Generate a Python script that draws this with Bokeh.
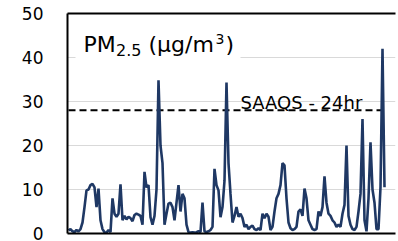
from bokeh.plotting import figure
from bokeh.models import Label, BoxAnnotation, LinearAxis, FixedTicker, Range1d
from bokeh.embed import file_html
from bokeh.resources import INLINE

# PM2.5 daily-ish series (µg/m3)
pm25 = [
    0.7, 1.0, 0.5, 0.3, 0.8, 0.5, 1.0, 2.5, 6.0, 9.8,
    10.0, 11.0, 11.3, 10.5, 6.0, 10.2, 3.0, 1.0, 0.3, 0.2,
    0.8, 0.3, 8.0, 4.5, 3.8, 4.5, 11.2, 3.0, 4.0, 3.2,
    3.8, 3.5, 2.8, 4.2, 4.5, 4.3, 4.0, 2.0, 14.0, 10.5,
    11.0, 3.7, 2.0, 4.0, 10.0, 34.8, 20.0, 16.0, 2.0, 4.5,
    6.8, 7.0, 6.0, 3.0, 7.0, 11.0, 5.0, 9.0, 8.0, 2.0,
    0.3, 0.2, 0.3, 0.2, 0.3, 0.5, 0.3, 7.0, 0.5, 0.3,
    0.5, 0.8, 1.5, 14.7, 11.0, 9.8, 3.7, 6.0, 12.0, 34.3,
    16.0, 9.0, 2.5, 4.0, 6.0, 3.8, 4.5, 3.5, 1.5, 2.0,
    1.0, 1.5, 1.8, 1.0, 0.8, 1.2, 0.8, 4.5, 3.5, 4.5,
    3.8, 0.8, 1.5, 5.0, 8.0, 9.0, 11.0, 16.0, 15.5, 8.0,
    2.5, 1.2, 0.8, 1.0, 1.5, 5.0, 5.5, 4.0, 10.2, 8.0,
    3.0, 2.0, 1.0, 0.8, 1.0, 5.0, 4.0, 6.0, 13.0, 7.0,
    4.5, 4.0, 3.0, 2.5, 1.5, 2.0, 1.5, 4.5, 6.5, 20.0,
    4.0, 2.0, 1.0, 0.8, 1.5, 5.0, 9.0, 26.0, 3.0, 0.5,
    8.0, 20.7, 10.0, 7.0, 1.0, 1.0, 10.5, 42.0, 10.5,
]
day = list(range(len(pm25)))
saaqs_24hr = 28
y_ticks = [0, 10, 20, 30, 40, 50]
std_label = "SAAQS - 24hr"

FONT = "DejaVu Sans"

p = figure(width=398, height=241, output_backend="svg", toolbar_location=None,
           x_range=Range1d(-0.5, 163.5), y_range=Range1d(0, 50),
           min_border_left=67, min_border_right=3, min_border_top=13,
           min_border_bottom=8, background_fill_color="white",
           border_fill_color="white")
p.outline_line_color = None

# grid
p.xgrid.visible = False
p.ygrid.ticker = FixedTicker(ticks=y_ticks)
p.ygrid.grid_line_color = "#d9d9d9"
p.ygrid.grid_line_width = 1

# y axis
p.yaxis.ticker = FixedTicker(ticks=y_ticks)
p.yaxis.axis_line_color = "black"
p.yaxis.axis_line_width = 2
p.yaxis.major_tick_out = 0
p.yaxis.major_tick_in = 0
p.yaxis.minor_tick_out = 0
p.yaxis.minor_tick_in = 0
p.yaxis.major_label_standoff = 24
p.yaxis.major_label_text_font = FONT
p.yaxis.major_label_text_font_size = "17px"
p.yaxis.major_label_text_color = "black"

# x axis: line only
p.xaxis.ticker = FixedTicker(ticks=[])
p.xaxis.axis_line_color = "black"
p.xaxis.axis_line_width = 2
p.xaxis.major_tick_out = 0
p.xaxis.major_tick_in = 0
p.xaxis.minor_tick_out = 0
p.xaxis.minor_tick_in = 0
p.xaxis.major_label_standoff = 0

# top border line
top = LinearAxis(ticker=FixedTicker(ticks=[]), axis_line_color="black",
                 axis_line_width=2, major_tick_out=0, major_tick_in=0,
                 minor_tick_out=0, minor_tick_in=0, major_label_standoff=0)
p.add_layout(top, "above")

# standard line and series
p.line(day, [saaqs_24hr] * len(day), line_color="black", line_width=2,
       line_dash="7 4")
p.line(day, pm25, line_color="#1f3864", line_width=2.6)

# white box behind the title text
p.add_layout(BoxAnnotation(left=3.5, right=86, bottom=37, top=49.5,
                           fill_color="white", fill_alpha=1,
                           line_color=None))

def lab(x, y, t, size):
    p.add_layout(Label(x=x, y=y, text=t, text_font=FONT,
                       text_font_size=size, text_color="black",
                       text_baseline="alphabetic", text_align="left"))

lab(7.5, 42.95, "PM", "22px")
lab(23.8, 41.8, "2.5", "16px")
lab(40.0, 42.95, "(µg/m", "22px")
lab(73.5, 44.3, "3", "14px")
lab(78.5, 42.95, ")", "22px")
lab(86.0, 29.8, std_label, "18px")

open("out.html", "w").write(file_html(p, INLINE))
